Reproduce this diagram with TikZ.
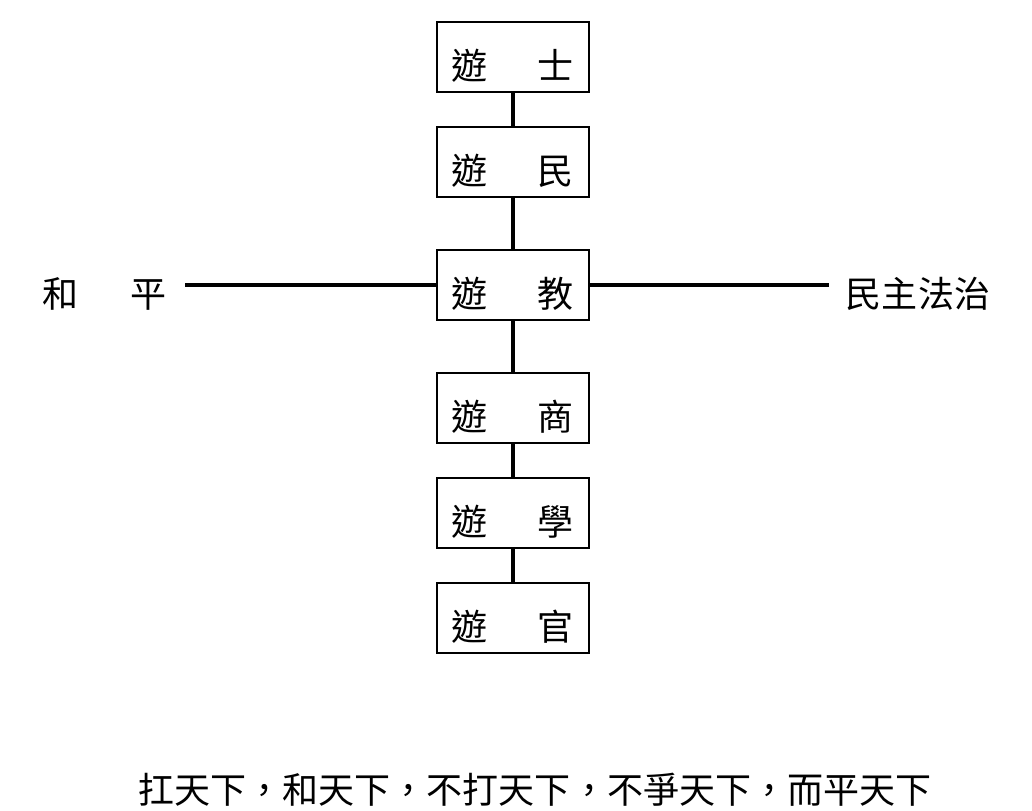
\documentclass[tikz,border=0pt]{standalone}
\usepackage{fontspec}
\newfontfamily\tcfont{Noto Sans CJK TC}

\begin{document}
\begin{tikzpicture}[
    x=0.02cm, y=-0.02cm,
    % styles
    you box/.style={draw, line width=0.7pt, minimum width=3.04cm, minimum height=1.4cm, inner sep=0pt,
        font=\tcfont\fontsize{20.5}{24}\selectfont, text height=0.9cm, text depth=0cm},
    side label/.style={inner ysep=0pt, inner xsep=0.36cm,
        font=\tcfont\fontsize{20.5}{24}\selectfont, text height=0.9cm, text depth=0cm},
    motto text/.style={inner sep=0pt, font=\tcfont\fontsize{20.5}{24}\selectfont},
    link/.style={line width=2.3pt} % connecting bars
]
    \useasboundingbox (0,0) rectangle (1032,811);

    % =========================================================================
    % 1. Column of boxes
    % =========================================================================
    \foreach \name/\ypos/\ch in {shi/57/士, min/162/民, jiao/285/教, shang/408/商, xue/513/學, guan/618/官} {
        \node[you box] (\name) at (513,\ypos) {遊\hspace{1cm}\ch};
    }

    % =========================================================================
    % 2. Side labels
    % =========================================================================
    \node[side label] (heping) at (105,285) {和\hspace{1.04cm}平};
    \node[side label, inner xsep=0.34cm] (fazhi) at (918,285) {民主法治};

    % =========================================================================
    % 3. Connections
    % =========================================================================
    \foreach \a/\b in {shi/min, min/jiao, jiao/shang, shang/xue, xue/guan} {
        \draw[link] (\a) -- (\b);
    }
    \draw[link] (heping) -- (jiao);
    \draw[link] (jiao) -- (fazhi);

    % Bottom line of text
    \node[motto text] (motto) at (535,790) {扛天下，和天下，不打天下，不爭天下，而平天下};

\end{tikzpicture}
\end{document}
